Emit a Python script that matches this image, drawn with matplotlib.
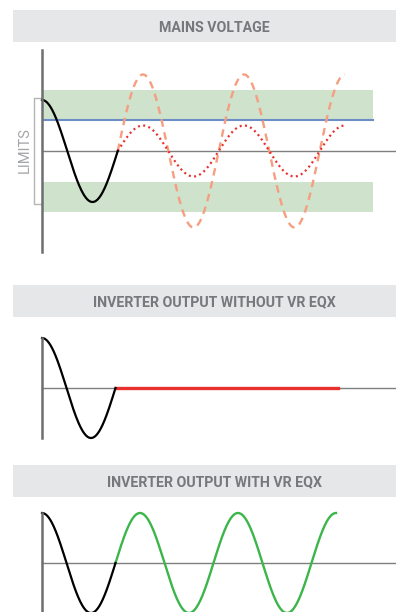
import numpy as np
import matplotlib
matplotlib.use('Agg')
import matplotlib.pyplot as plt
from matplotlib.patches import Rectangle

# panel titles
titles = ['MAINS VOLTAGE', 'INVERTER OUTPUT WITHOUT VR EQX', 'INVERTER OUTPUT WITH VR EQX']

# waveform parameters (x in cycles, y relative to nominal amplitude)
nominal_amp = 1.0
surge_amp = 1.5          # dashed, over-voltage
sag_amp = 0.5            # dotted, under-voltage
lead_end = 0.75          # black lead-in ends at first rising zero crossing
wave_end = 3.0           # end of coloured waveforms
cutoff_end = 3.02        # red flat line (no output)
upper_band = [0.6, 1.2]  # acceptable limit zones
lower_band = [-1.2, -0.6]
limit_line = 0.6
limits_bracket = [-1.04, 1.04]

title_family = ['Roboto', 'DejaVu Sans']

W, H = 396, 612
fig = plt.figure(figsize=(W / 100, H / 100), dpi=100)
fig.patch.set_facecolor('white')

header_y = [10, 285, 465]
for t, hy in zip(titles, header_y):
    fig.patches.append(Rectangle((13 / W, 1 - (hy + 32) / H), (W - 13) / W, 32 / H,
                                 transform=fig.transFigure, facecolor='#e6e7e8',
                                 edgecolor='none', zorder=0))
    fig.text(214 / W, 1 - (hy + 17.5) / H, t, ha='center', va='center',
             color='#77787b', fontsize=10.2, fontweight='bold', family=title_family)

t_lead = np.linspace(0, lead_end, 200)
t_wave = np.linspace(lead_end, wave_end, 600)
lead = nominal_amp * np.cos(2 * np.pi * t_lead)


def setup(ax, xmax, ylim):
    ax.set_xlim(0, xmax)
    ax.set_ylim(*ylim)
    ax.axis('off')
    ax.axhline(0, color='#7f7f7f', lw=1.0, zorder=1, clip_on=False)
    ax.axvline(0, color='#6d6e71', lw=1.8, zorder=5, clip_on=False)


# panel 1: mains voltage
ax1 = fig.add_axes([42 / W, (H - 252) / H, (W - 42) / W, 202 / H])
setup(ax1, (W - 42) / 101, (-1.98, 1.98))
for band in (upper_band, lower_band):
    ax1.axhspan(band[0], band[1], xmin=0, xmax=(373 - 42) / (W - 42),
                color='#cfe2cc', lw=0, zorder=0)
ax1.plot([0, (373 - 42) / 101], [limit_line, limit_line], color='#6b8ec7', lw=1.5, zorder=2)
ax1.plot(t_lead, lead, color='black', lw=1.6, zorder=4, clip_on=False)
ax1.plot(t_wave, surge_amp * np.sin(2 * np.pi * (t_wave - lead_end)), color='#f59e80',
         lw=1.7, dashes=(3.2, 2.4), zorder=3)
ax1.plot(t_wave, sag_amp * np.sin(2 * np.pi * (t_wave - lead_end)), color='#e8312f',
         lw=1.6, dashes=(0.9, 1.5), zorder=3)
bx = -8 / 101
ax1.plot([0, bx, bx, 0], [limits_bracket[1], limits_bracket[1], limits_bracket[0], limits_bracket[0]],
         color='#b5b5b5', lw=1.0, clip_on=False, zorder=2)
ax1.text(-17 / 101, 0.02, 'LIMITS', rotation=90, ha='center', va='center',
         color='#a3a5a8', fontsize=10.5, family=title_family)

# panel 2: inverter output without VR EQX
ax2 = fig.add_axes([42 / W, (H - 438) / H, (W - 42) / W, 100 / H])
setup(ax2, (W - 42) / 98, (-1, 1))
ax2.plot(t_lead, lead, color='black', lw=1.6, zorder=4, clip_on=False)
ax2.plot([lead_end, cutoff_end], [0, 0], color='#e8312f', lw=2.4, zorder=3)

# panel 3: inverter output with VR EQX
ax3 = fig.add_axes([42 / W, 0, (W - 42) / W, 99 / H])
setup(ax3, (W - 42) / 98, (-0.98, 1.0))
ax3.plot(t_lead, lead, color='black', lw=1.6, zorder=4, clip_on=False)
ax3.plot(t_wave, nominal_amp * np.sin(2 * np.pi * (t_wave - lead_end)), color='#3cb54a',
         lw=1.7, zorder=3, clip_on=False)

fig.savefig('out.png', dpi=100)
